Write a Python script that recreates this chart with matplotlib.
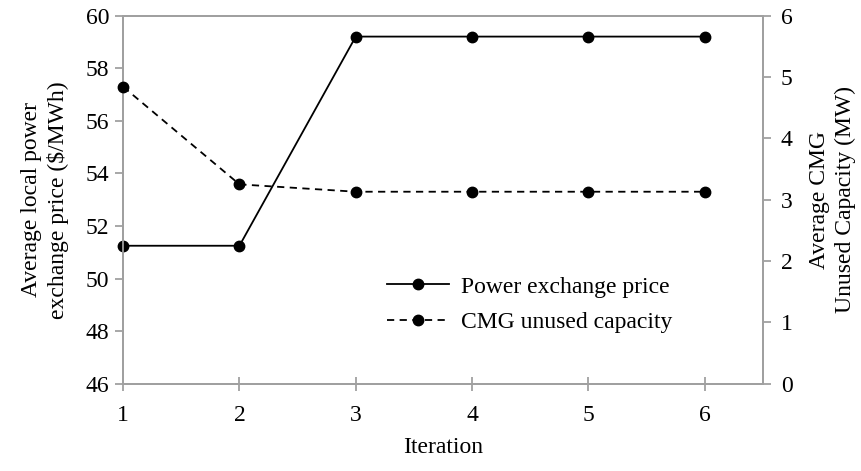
import numpy as np
import matplotlib.pyplot as plt

plt.rcParams['font.family'] = ['Liberation Serif', 'DejaVu Serif']
plt.rcParams['font.size'] = 17

iterations = [1, 2, 3, 4, 5, 6]
price = [51.25, 51.25, 59.2, 59.2, 59.2, 59.2]
unused_capacity = [4.84, 3.25, 3.13, 3.13, 3.13, 3.13]

grey = '#a0a0a0'

fig = plt.figure(figsize=(8.61, 4.71), dpi=100)
ax = fig.add_axes([0.143, 0.185, 0.743, 0.782])
ax2 = ax.twinx()

l1, = ax.plot(iterations, price, color='black', lw=1.3, marker='o', ms=7.5,
              label='Power exchange price', clip_on=False, zorder=5)
l2, = ax2.plot(iterations, unused_capacity, color='black', lw=1.3, ls=(0, (4, 3)),
               marker='o', ms=7.5, label='CMG unused capacity', clip_on=False, zorder=5)

ax.set_xlim(1, 6.5)
ax.set_ylim(46, 60)
ax.set_yticks(np.arange(46, 61, 2))
ax.set_xticks(iterations)
ax2.set_ylim(0, 6)
ax2.set_yticks(range(0, 7))

for a in (ax, ax2):
    for s in a.spines.values():
        s.set_color(grey)
        s.set_linewidth(1.3)
    a.tick_params(colors=grey, labelcolor='black', width=1.3, length=6, pad=4)
ax2.tick_params(pad=7)
ax.tick_params(axis='x', direction='inout', length=10, pad=10)

ax.set_xlabel('Iteration', labelpad=8)
ax.set_ylabel('Average local power\nexchange price ($/MWh)', labelpad=12, linespacing=1.3)
ax2.set_ylabel('Average CMG\nUnused Capacity (MW)', labelpad=12, linespacing=1.3)

ax.legend([l1, l2], [l1.get_label(), l2.get_label()], frameon=False,
          loc='center left', bbox_to_anchor=(0.38, 0.215), handlelength=2.6,
          handletextpad=0.5, labelspacing=0.6)

fig.savefig('out.png', dpi=100)
